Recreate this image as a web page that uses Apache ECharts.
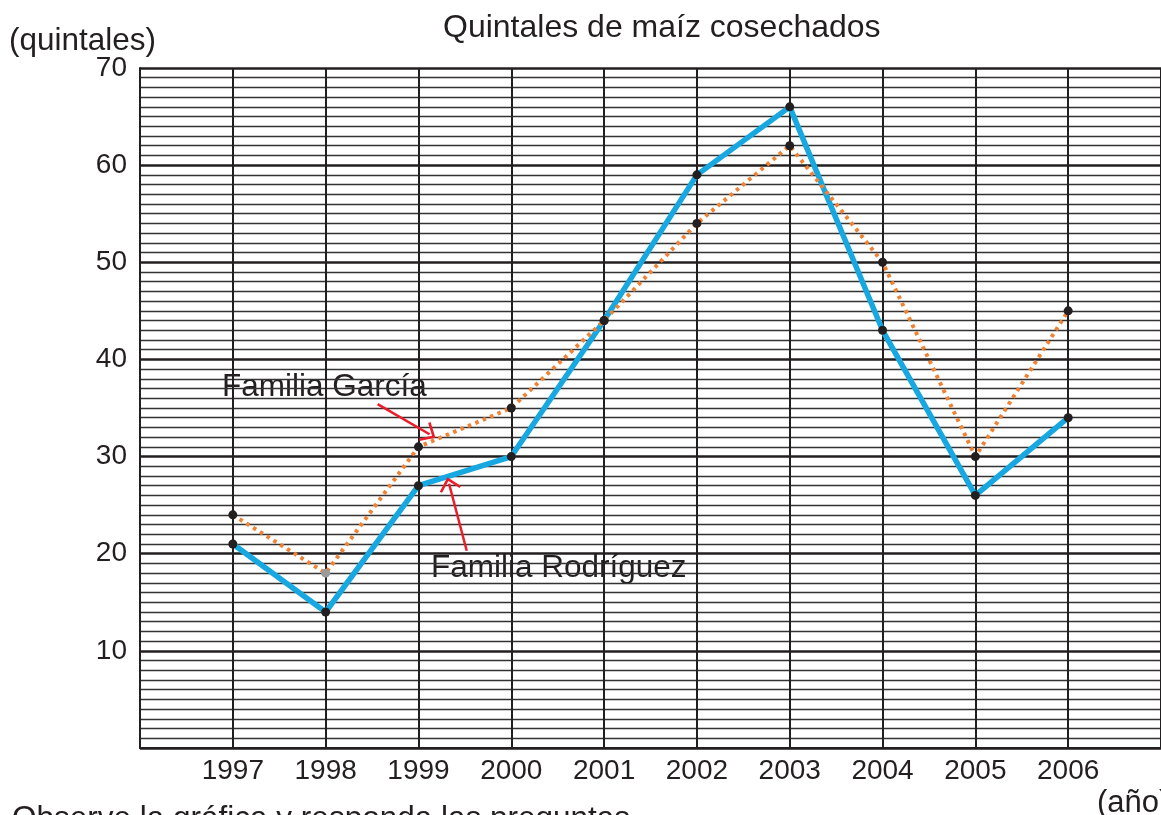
<!DOCTYPE html>
<html>
<head>
<meta charset="utf-8">
<script src="https://cdn.jsdelivr.net/npm/echarts@6/dist/echarts.min.js"></script>
<style>
  html, body { margin: 0; padding: 0; background: #fff; }
  #chart { width: 1161px; height: 815px; }
</style>
</head>
<body>
<div id="chart"></div>
<script>
// Harvested maize (quintales) per family, 1997–2006
const years = [1997, 1998, 1999, 2000, 2001, 2002, 2003, 2004, 2005, 2006];
const rodriguez = [21, 14, 27, 30, 44, 59, 66, 43, 26, 34];
const garcia = [24, 18, 31, 35, 44, 54, 62, 50, 30, 45];

// Callout arrows, in data coordinates [year, quintales]
const garciaArrow = [[1998.56, 35.4], [1999.12, 32.3]];
const rodriguezArrow = [[1999.52, 20.3], [1999.33, 27.2]];

const FONT = "'Liberation Sans', Arial, Helvetica, sans-serif";
const INK = '#231f20';
const BLUE = '#17a8e1';
const ORANGE = '#f08234';
const RED = '#ec1c2a';
// open "V" arrowhead, tip pointing up
const CHEVRON = 'path://M10,0 L20,11 L18.2,12.4 L10,3.6 L1.8,12.4 L0,11 Z';

const toPoints = (vals) => years.map((y, i) => [y, vals[i]]);

const arrowLine = (pts) => ({
  silent: true,
  animation: false,
  symbol: ['none', CHEVRON],
  symbolSize: [22, 14],
  symbolKeepAspect: true,
  label: { show: false },
  emphasis: { disabled: true },
  lineStyle: { color: RED, width: 2.5, type: 'solid' },
  data: [[{ coord: pts[0] }, { coord: pts[1] }]]
});

const chart = echarts.init(document.getElementById('chart'), null, { renderer: 'canvas' });

chart.setOption({
  animation: false,
  backgroundColor: '#fff',
  textStyle: { fontFamily: FONT, color: INK },
  grid: { left: 140, top: 68, width: 1023, height: 680, containLabel: false },
  xAxis: {
    type: 'value',
    min: 1996,
    max: 2007,
    interval: 1,
    axisLine: { show: true, onZero: false, lineStyle: { color: INK, width: 2 } },
    axisTick: { show: false },
    axisLabel: {
      fontSize: 28,
      color: INK,
      fontFamily: FONT,
      margin: 9,
      showMinLabel: false,
      showMaxLabel: false,
      formatter: (v) => (years.indexOf(v) >= 0 ? String(v) : '')
    },
    splitLine: { show: true, lineStyle: { color: INK, width: 2 } }
  },
  yAxis: {
    type: 'value',
    min: 0,
    max: 70,
    interval: 10,
    axisLine: { show: true, lineStyle: { color: INK, width: 2 } },
    axisTick: { show: false },
    axisLabel: {
      fontSize: 28,
      color: INK,
      fontFamily: FONT,
      margin: 13,
      formatter: (v) => (v === 0 ? '' : String(v))
    },
    splitLine: { show: true, lineStyle: { color: INK, width: 2.5 } },
    minorTick: { show: false, splitNumber: 10 },
    minorSplitLine: { show: true, lineStyle: { color: '#333333', width: 1.4 } }
  },
  series: [
    {
      name: 'Familia Rodríguez',
      type: 'line',
      data: toPoints(rodriguez),
      symbol: 'circle',
      symbolSize: 9,
      itemStyle: { color: INK },
      lineStyle: { color: BLUE, width: 5.5 },
      z: 3,
      markLine: arrowLine(rodriguezArrow)
    },
    {
      name: 'Familia García',
      type: 'line',
      data: toPoints(garcia).map((p, i) =>
        i === 1 ? { value: p, itemStyle: { color: '#9a9a9a' } } : p
      ),
      symbol: 'circle',
      symbolSize: 9,
      itemStyle: { color: INK },
      lineStyle: { color: ORANGE, width: 4, type: [3.5, 4.5] },
      z: 4,
      markLine: arrowLine(garciaArrow)
    }
  ],
  graphic: [
    {
      type: 'text', left: 443, top: 12,
      style: { text: 'Quintales de maíz cosechados', font: `32px ${FONT}`, fill: INK }
    },
    {
      type: 'text', left: 9, top: 25,
      style: { text: '(quintales)', font: `31.5px ${FONT}`, fill: INK }
    },
    {
      type: 'text', left: 222, top: 371,
      style: { text: 'Familia García', font: `31.5px ${FONT}`, fill: INK }
    },
    {
      type: 'text', left: 431, top: 552,
      style: { text: 'Familia Rodríguez', font: `31.5px ${FONT}`, fill: INK }
    },
    {
      type: 'text', left: 1097, top: 788,
      style: { text: '(año)', font: `31px ${FONT}`, fill: INK }
    },
    {
      type: 'text', left: 12, top: 803,
      style: { text: 'Observe la gráfica y responda las preguntas.', font: `31.5px ${FONT}`, fill: INK }
    }
  ]
});
</script>
</body>
</html>
